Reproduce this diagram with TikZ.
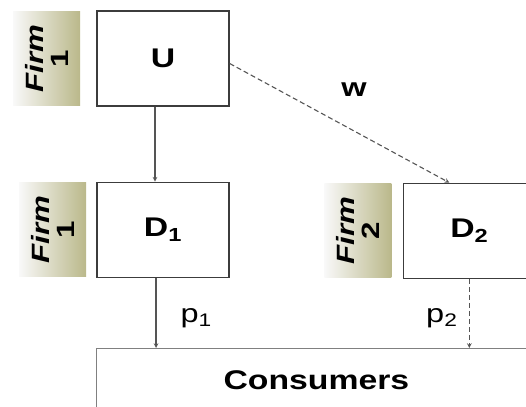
\documentclass[tikz,border=0pt]{standalone}
\usepackage{fontspec}
\setmainfont[FakeStretch=1.25]{Liberation Sans}
\usetikzlibrary{arrows,shapes,positioning,calc}
\definecolor{firmtan}{RGB}{186,184,138}
\definecolor{boxline}{RGB}{60,60,60}
\definecolor{arrowgray}{RGB}{85,85,85}

\begin{document}
\begin{tikzpicture}[
    x=1pt,y=1pt,
    node distance=75pt,
    block/.style={rectangle,draw=boxline,line width=1.3pt,fill=white,minimum width=132pt,minimum height=95pt,align=center,font=\fontsize{27}{30}\selectfont\bfseries},
    firm/.style={rectangle,rotate=90,minimum width=94pt,minimum height=67pt,inner sep=0pt,align=center,left color=white!95!gray,right color=firmtan,font=\fontsize{25}{25}\selectfont\bfseries},
    lbl/.style={font=\fontsize{26}{28}\selectfont},
    arrow/.style={line width=1.1pt,draw=arrowgray,->,>=stealth},
    darrow/.style={arrow,dash pattern=on 5pt off 3pt}
]
    \useasboundingbox (0,0) rectangle (526,-406);
    \clip (0,0) rectangle (526,-406);

    \node[block] (u) at (163,-58.5) {U};
    \node[block,below=75pt of u] (d1) {D\textsubscript{1}};
    \node[block,right=173pt of d1,yshift=-1pt] (d2) {D\textsubscript{2}};
    \node[block,minimum width=440pt,minimum height=64pt,line width=0.8pt,draw=gray,anchor=north west] (cons) at (96,-348) {Consumers};

    % Firm tags
    \node[firm,left=12pt of u,anchor=south,yshift=4pt] (f1u) {\textit{Firm}\\1};
    \node[firm,left=12pt of d1,anchor=south,yshift=-2pt] (f1d) {\textit{Firm}\\1};
    \node[firm,left=11pt of d2,anchor=south] (f2d) {\textit{Firm}\\2};

    \draw[arrow] ([xshift=-8pt]u.south) -- ([xshift=-8pt]d1.north);
    \draw[darrow] ([yshift=-5pt]u.east) -- ([xshift=-20pt]d2.north);
    \draw[arrow] ([xshift=-7pt]d1.south) -- ([xshift=-7pt]d1.south |- cons.north);
    \draw[darrow] (d2.south) -- (d2.south |- cons.north);

    % Labels
    \node[lbl,font=\fontsize{26}{28}\selectfont\bfseries] (w) at (354,-90) {w};
    \node[lbl,anchor=west] (p1) at (177,-318) {p\textsubscript{1}};
    \node[lbl,anchor=east] (p2) at (461,-318) {p\textsubscript{2}};
\end{tikzpicture}
\end{document}
